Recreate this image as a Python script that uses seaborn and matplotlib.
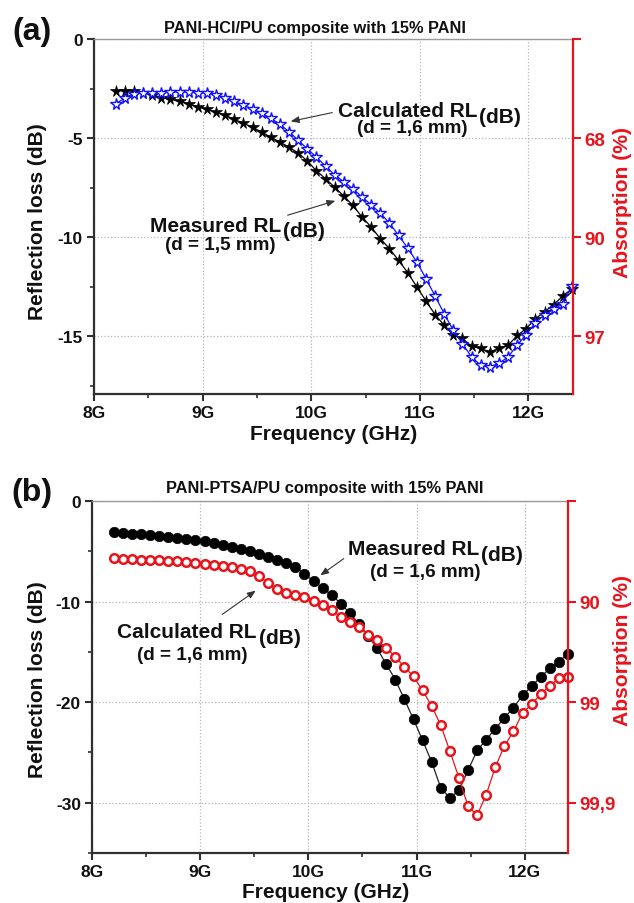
import matplotlib
matplotlib.use("Agg")
import matplotlib.pyplot as plt
import numpy as np
import pandas as pd
import seaborn as sns
from matplotlib.ticker import MultipleLocator

# ---------------- data ----------------
freq_ghz = [8.200, 8.284, 8.368, 8.452, 8.536, 8.620, 8.704, 8.788, 8.872, 8.956,
            9.040, 9.124, 9.208, 9.292, 9.376, 9.460, 9.544, 9.628, 9.712, 9.796,
            9.880, 9.964, 10.048, 10.132, 10.216, 10.300, 10.384, 10.468, 10.552, 10.636,
            10.720, 10.804, 10.888, 10.972, 11.056, 11.140, 11.224, 11.308, 11.392, 11.476,
            11.560, 11.644, 11.728, 11.812, 11.896, 11.980, 12.064, 12.148, 12.232, 12.316,
            12.400]

# (a) PANI-HCl/PU
hcl_measured = [-2.60, -2.60, -2.62, -2.70, -2.80, -2.95, -3.05, -3.15, -3.28, -3.42,
                -3.55, -3.70, -3.85, -4.05, -4.25, -4.45, -4.70, -4.95, -5.20, -5.45,
                -5.75, -6.15, -6.65, -7.05, -7.47, -7.92, -8.39, -8.98, -9.48, -10.07,
                -10.57, -11.16, -11.78, -12.50, -13.20, -13.90, -14.43, -14.95, -15.10, -15.50,
                -15.60, -15.78, -15.60, -15.45, -14.95, -14.60, -14.10, -13.75, -13.40, -12.95,
                -12.60]
hcl_calculated = [-3.27, -2.97, -2.77, -2.72, -2.70, -2.70, -2.68, -2.67, -2.67, -2.70,
                  -2.72, -2.82, -2.95, -3.15, -3.35, -3.52, -3.75, -4.00, -4.30, -4.68,
                  -5.10, -5.54, -5.96, -6.41, -6.85, -7.20, -7.55, -7.97, -8.36, -8.78,
                  -9.28, -9.90, -10.54, -11.24, -12.08, -12.96, -13.85, -14.69, -15.36, -16.03,
                  -16.45, -16.53, -16.36, -16.03, -15.44, -14.90, -14.30, -13.90, -13.63, -13.34,
                  -12.45]

# (b) PANI-PTSA/PU
ptsa_measured = [-3.10, -3.17, -3.24, -3.31, -3.38, -3.45, -3.55, -3.66, -3.80, -3.92,
                 -4.02, -4.18, -4.36, -4.55, -4.78, -5.02, -5.27, -5.55, -5.82, -6.12,
                 -6.55, -7.25, -7.95, -8.65, -9.35, -10.20, -11.17, -12.21, -13.44, -14.65,
                 -16.25, -17.76, -19.73, -21.71, -23.80, -25.95, -28.53, -29.52, -28.77, -26.78,
                 -24.80, -23.73, -22.64, -21.55, -20.56, -19.33, -18.40, -17.51, -16.62, -15.96,
                 -15.19]
ptsa_calculated = [-5.69, -5.75, -5.79, -5.83, -5.86, -5.89, -5.93, -6.00, -6.07, -6.15,
                   -6.22, -6.33, -6.44, -6.56, -6.73, -6.95, -7.50, -8.15, -8.75, -9.10,
                   -9.35, -9.58, -9.92, -10.35, -10.80, -11.55, -12.08, -12.55, -13.30, -13.87,
                   -14.60, -15.50, -16.50, -17.45, -18.84, -20.39, -22.31, -24.86, -27.54, -30.36,
                   -31.25, -29.20, -26.45, -24.36, -22.91, -21.05, -20.23, -19.17, -18.40, -17.61,
                   -17.51]

x_ticks = [8, 9, 10, 11, 12]
x_tick_labels = ["8G", "9G", "10G", "11G", "12G"]
a_yticks = [0, -5, -10, -15]
a_abs_labels = ["", "68", "90", "97"]
b_yticks = [0, -10, -20, -30]
b_abs_labels = ["", "90", "99", "99,9"]

# ---------------- style ----------------
sns.set_theme(style="white")
plt.rcParams["font.family"] = ["Liberation Sans", "DejaVu Sans"]
plt.rcParams["font.weight"] = "bold"

W, H = 634, 904
fig = plt.figure(figsize=(W / 100, H / 100), dpi=100)
fig.patch.set_facecolor("white")
renderer = fig.canvas.get_renderer()

RED = "#e8141c"
BLUE = "#1010ff"
INK = "#111111"


def px(x, y):
    return x / W, 1 - y / H


def ax_rect(l, t, r, b):
    return [l / W, 1 - b / H, (r - l) / W, (b - t) / H]


def style_axes(ax, ylim, yticks, yminor, abs_labels, xlim):
    ax.set_xlim(*xlim)
    ax.set_ylim(*ylim)
    ax.set_xticks(x_ticks)
    ax.set_xticklabels(x_tick_labels)
    ax.xaxis.set_minor_locator(MultipleLocator(0.5))
    ax.set_yticks(yticks)
    ax.set_yticklabels([str(v) for v in yticks])
    ax.yaxis.set_minor_locator(MultipleLocator(yminor))
    ax.grid(True, which="major", linestyle=":", color="#b5b5b5", linewidth=0.9)
    ax.set_xlabel("")
    ax.set_ylabel("")
    for s in ["left", "bottom"]:
        ax.spines[s].set_color("#303030")
        ax.spines[s].set_linewidth(1.6)
    ax.spines["top"].set_color("#9a9a9a")
    ax.spines["top"].set_linewidth(1.0)
    ax.spines["right"].set_visible(False)
    ax.tick_params(axis="both", which="major", direction="out", length=5, width=1.5,
                   color="#303030", labelsize=12.5, pad=3, left=True, bottom=True)
    ax.tick_params(axis="both", which="minor", direction="out", length=3, width=1.2,
                   color="#303030", left=True, bottom=True)
    for lab in ax.get_xticklabels() + ax.get_yticklabels():
        lab.set_fontweight("bold")
        lab.set_color(INK)
    ax2 = ax.twinx()
    ax2.set_ylim(*ylim)
    ax2.set_yticks(yticks)
    ax2.set_yticklabels(abs_labels)
    ax2.grid(False)
    for s in ["left", "top", "bottom"]:
        ax2.spines[s].set_visible(False)
    ax2.spines["right"].set_color(RED)
    ax2.spines["right"].set_linewidth(1.6)
    ax2.tick_params(axis="y", which="major", direction="out", length=6, width=1.5,
                    color=RED, labelcolor=RED, labelsize=13.5, pad=2, right=True)
    for lab in ax2.get_yticklabels():
        lab.set_fontweight("bold")
    return ax2


def label_block(x_main, y_main, main, y_sub, x_d, y_d, dtext):
    t = fig.text(*px(x_main, y_main), main, fontsize=15, fontweight="bold",
                 ha="left", va="baseline", color=INK)
    bb = t.get_window_extent(renderer=renderer)
    x_end = bb.x1  # display pixels (dpi 100 -> same as image px)
    fig.text(x_end / W + 2 / W, 1 - y_sub / H, "(dB)", fontsize=15, fontweight="bold",
             ha="left", va="baseline", color=INK)
    fig.text(*px(x_d, y_d), dtext, fontsize=13.6, fontweight="bold",
             ha="center", va="baseline", color=INK)


def arrow(x0, y0, x1, y1):
    fig.add_artist(matplotlib.patches.FancyArrowPatch(
        px(x0, y0), px(x1, y1), transform=fig.transFigure,
        arrowstyle="-|>,head_length=5,head_width=2", mutation_scale=1,
        color="#333333", linewidth=0.8))


# ---------------- panel (a) ----------------
dfa = pd.DataFrame({"f": freq_ghz, "meas": hcl_measured, "calc": hcl_calculated})
ax1 = fig.add_axes(ax_rect(94, 40, 573, 395))
sns.lineplot(data=dfa, x="f", y="meas", ax=ax1, color="black", linewidth=0.9,
             marker="*", markersize=8.5, markerfacecolor="black", markeredgecolor="black",
             markeredgewidth=0.5, sort=False, estimator=None, clip_on=False, zorder=3)
sns.lineplot(data=dfa, x="f", y="calc", ax=ax1, color=BLUE, linewidth=0.9,
             marker="*", markersize=8.5, markerfacecolor="white", markeredgecolor=BLUE,
             markeredgewidth=1.0, sort=False, estimator=None, clip_on=False, zorder=4)
style_axes(ax1, (-17.9, 0), a_yticks, 2.5, a_abs_labels, (8, 12.41))

fig.text(*px(315, 28), "PANI-HCl/PU composite with 15% PANI", fontsize=11.8,
         fontweight="bold", ha="center", va="center", color=INK)
fig.text(*px(32, 32), "(a)", fontsize=23, fontweight="bold", ha="center", va="center",
         color=INK)
fig.text(*px(38, 222), "Reflection loss (dB)", fontsize=15, fontweight="bold",
         rotation=90, ha="center", va="center", color=INK)
fig.text(*px(622, 203), "Absorption (%)", fontsize=15.2, fontweight="bold",
         rotation=90, ha="center", va="center", color=RED)
fig.text(*px(334, 435), "Frequency (GHz)", fontsize=15, fontweight="bold",
         ha="center", va="center", color=INK)

label_block(338, 117, "Calculated RL", 123, 412, 133, "(d = 1,6 mm)")
arrow(335, 113, 288, 123)
label_block(150, 232, "Measured RL", 237, 220, 250, "(d = 1,5 mm)")
arrow(285, 217, 338, 201)

# ---------------- panel (b) ----------------
dfb = pd.DataFrame({"f": freq_ghz, "meas": ptsa_measured, "calc": ptsa_calculated})
ax3 = fig.add_axes(ax_rect(92, 502, 568, 854))
sns.lineplot(data=dfb, x="f", y="meas", ax=ax3, color="#222222", linewidth=0.9,
             marker="o", markersize=7.5, markerfacecolor="black", markeredgecolor="black",
             markeredgewidth=0.5, sort=False, estimator=None, clip_on=False, zorder=3)
sns.lineplot(data=dfb, x="f", y="calc", ax=ax3, color=RED, linewidth=0.9,
             marker="o", markersize=6.2, markerfacecolor="white", markeredgecolor=RED,
             markeredgewidth=1.8, sort=False, estimator=None, clip_on=False, zorder=4)
style_axes(ax3, (-35, 0), b_yticks, 5, b_abs_labels, (8, 12.4))

fig.text(*px(325, 489), "PANI-PTSA/PU composite with 15% PANI", fontsize=11.8,
         fontweight="bold", ha="center", va="center", color=INK)
fig.text(*px(32, 493), "(b)", fontsize=23, fontweight="bold", ha="center", va="center",
         color=INK)
fig.text(*px(38, 680), "Reflection loss (dB)", fontsize=15, fontweight="bold",
         rotation=90, ha="center", va="center", color=INK)
fig.text(*px(622, 651), "Absorption (%)", fontsize=15.2, fontweight="bold",
         rotation=90, ha="center", va="center", color=RED)
fig.text(*px(326, 893), "Frequency (GHz)", fontsize=15, fontweight="bold",
         ha="center", va="center", color=INK)

label_block(348, 555, "Measured RL", 561, 425, 577, "(d = 1,6 mm)")
arrow(346, 558, 318, 578)
label_block(117, 638, "Calculated RL", 644, 192, 660, "(d = 1,6 mm)")
arrow(220, 617, 258, 590)

fig.savefig("out.png", dpi=100, facecolor="white")
